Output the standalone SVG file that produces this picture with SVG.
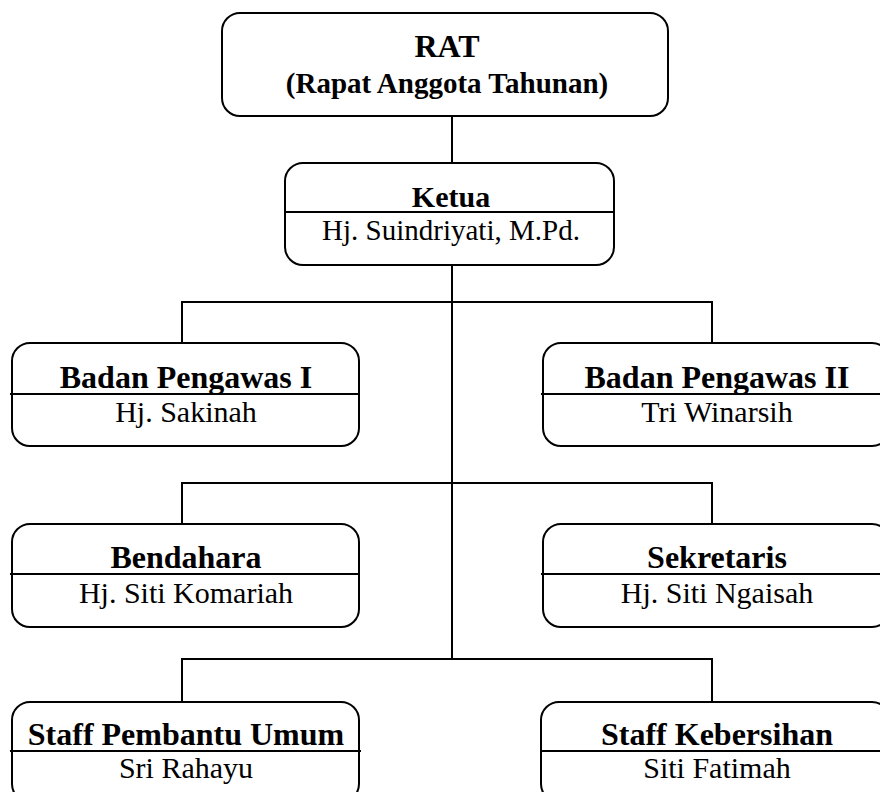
<svg xmlns="http://www.w3.org/2000/svg" width="880" height="792" viewBox="0 0 880 792">
<style>
.box{fill:#fff;stroke:#000;stroke-width:2}
.div{stroke:#000;stroke-width:2}
.con{stroke:#000;stroke-width:2;fill:none}
.t{font-family:"Liberation Serif","Times New Roman",serif;font-weight:bold;text-anchor:middle;fill:#000}
.n{font-family:"Liberation Serif","Times New Roman",serif;text-anchor:middle;fill:#000}
</style>
<rect width="880" height="792" fill="#fff"/>
<g id="connectors">
<line class="con" x1="452" y1="116" x2="452" y2="163"/>
<line class="con" x1="452" y1="265" x2="452" y2="660"/>
<polyline class="con" points="182,343 182,302 712,302 712,343"/>
<polyline class="con" points="182,524 182,483 712,483 712,524"/>
<polyline class="con" points="182,702 182,659 712,659 712,702"/>
</g>
<g id="rat">
<rect class="box" x="222" y="13" width="446" height="103" rx="18"/>
<text class="t" x="447" y="57" font-size="32">RAT</text>
<text class="t" x="447" y="93" font-size="29">(Rapat Anggota Tahunan)</text>
</g>
<g id="ketua">
<rect class="box" x="285" y="163" width="329" height="102" rx="18"/>
<line class="div" x1="285" y1="212" x2="614" y2="212"/>
<text class="t" x="451" y="207" font-size="30">Ketua</text>
<text class="n" x="451" y="240" font-size="29">Hj. Suindriyati, M.Pd.</text>
</g>
<g id="bp1">
<rect class="box" x="12" y="343" width="347" height="103" rx="18"/>
<line class="div" x1="10" y1="394" x2="359" y2="394"/>
<text class="t" x="186" y="388" font-size="32">Badan Pengawas I</text>
<text class="n" x="186" y="422" font-size="30">Hj. Sakinah</text>
</g>
<g id="bp2">
<rect class="box" x="543" y="343" width="347" height="103" rx="18"/>
<line class="div" x1="541" y1="394" x2="890" y2="394"/>
<text class="t" x="717" y="388" font-size="32">Badan Pengawas II</text>
<text class="n" x="717" y="422" font-size="30">Tri Winarsih</text>
</g>
<g id="bendahara">
<rect class="box" x="12" y="524" width="347" height="103" rx="18"/>
<line class="div" x1="10" y1="574" x2="359" y2="574"/>
<text class="t" x="186" y="568" font-size="32">Bendahara</text>
<text class="n" x="186" y="603" font-size="30">Hj. Siti Komariah</text>
</g>
<g id="sekretaris">
<rect class="box" x="543" y="524" width="347" height="103" rx="18"/>
<line class="div" x1="541" y1="574" x2="890" y2="574"/>
<text class="t" x="717" y="568" font-size="32">Sekretaris</text>
<text class="n" x="717" y="603" font-size="30">Hj. Siti Ngaisah</text>
</g>
<g id="staff-umum">
<rect class="box" x="12" y="702" width="347" height="100" rx="18"/>
<line class="div" x1="10" y1="751" x2="361" y2="751"/>
<text class="t" x="186" y="745" font-size="32">Staff Pembantu Umum</text>
<text class="n" x="186" y="778" font-size="30">Sri Rahayu</text>
</g>
<g id="staff-kebersihan">
<rect class="box" x="541" y="702" width="349" height="100" rx="18"/>
<line class="div" x1="541" y1="751" x2="890" y2="751"/>
<text class="t" x="717" y="745" font-size="32">Staff Kebersihan</text>
<text class="n" x="717" y="778" font-size="30">Siti Fatimah</text>
</g>
</svg>
